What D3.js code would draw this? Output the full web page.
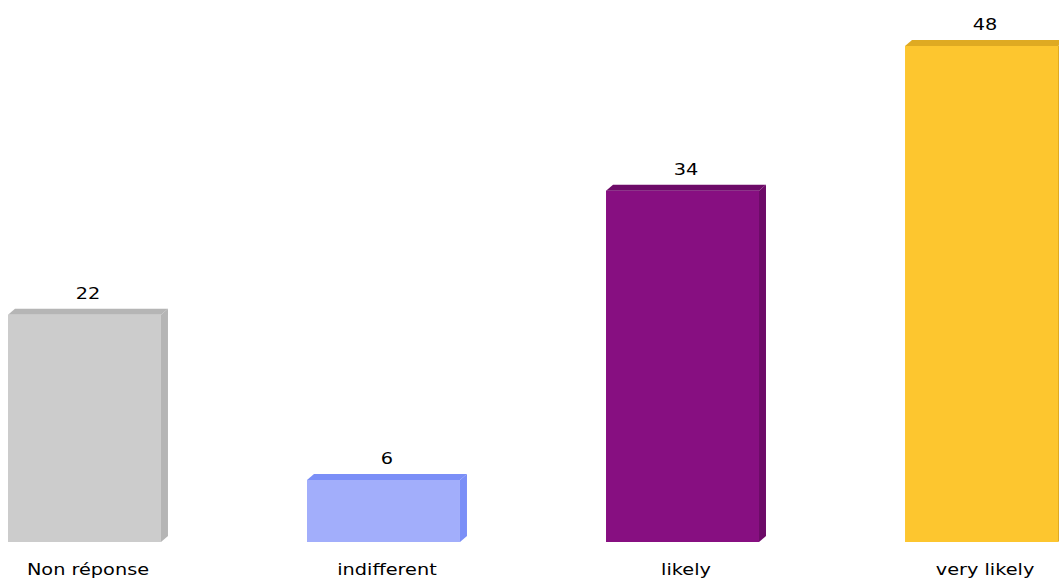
<!DOCTYPE html>
<html><head><meta charset="utf-8">
<script src="https://cdn.jsdelivr.net/npm/d3@7"></script>
<style>html,body{margin:0;padding:0;background:#fff;}svg{display:block;}</style>
</head><body>
<svg id="chart" width="1059" height="586"></svg>
<script>
const categories = ["Non réponse", "indifferent", "likely", "very likely"];
const values = [22, 6, 34, 48];
const frontColors = ["#cccccc", "#a2aefb", "#870f81", "#fdc62f"];
const shadeColors = ["#b5b5b5", "#7b8ff7", "#6d0b68", "#dfaa22"];

const svg = d3.select("#chart");
const depthX = 7, depthY = 6;
const x = d3.scaleBand().domain(categories).range([8, 1065]).paddingInner(0.465).paddingOuter(0);
const y = d3.scaleLinear().domain([0, 48]).range([542, 46]);
const bw = x.bandwidth() - depthX;
const font = "DejaVu Sans, Verdana, sans-serif";

const g = svg.append("g");
categories.forEach((c, i) => {
  const x0 = x(c), x1 = x0 + bw, yt = y(values[i]), yb = y(0);
  const cx = x0 + x.bandwidth() / 2;
  const bar = g.append("g");
  bar.append("path")
    .attr("d", `M${x1},${yt} L${x1+depthX},${yt-depthY} L${x1+depthX},${yb-depthY} L${x1},${yb} Z`)
    .attr("fill", shadeColors[i]);
  bar.append("path")
    .attr("d", `M${x0},${yt} L${x0+depthX},${yt-depthY} L${x1+depthX},${yt-depthY} L${x1},${yt} Z`)
    .attr("fill", shadeColors[i]);
  bar.append("rect")
    .attr("x", x0).attr("y", yt).attr("width", bw).attr("height", yb - yt)
    .attr("fill", frontColors[i]);
  g.append("text")
    .attr("transform", `translate(${cx},${yt - depthY - 10}) scale(1.17,1)`)
    .attr("text-anchor", "middle")
    .attr("font-family", font)
    .attr("font-size", 16.5).attr("fill", "#000")
    .text(values[i]);
  g.append("text")
    .attr("transform", `translate(${cx},575) scale(1.17,1)`)
    .attr("text-anchor", "middle")
    .attr("font-family", font)
    .attr("font-size", 16.5).attr("fill", "#000")
    .text(c);
});
</script>
</body></html>
